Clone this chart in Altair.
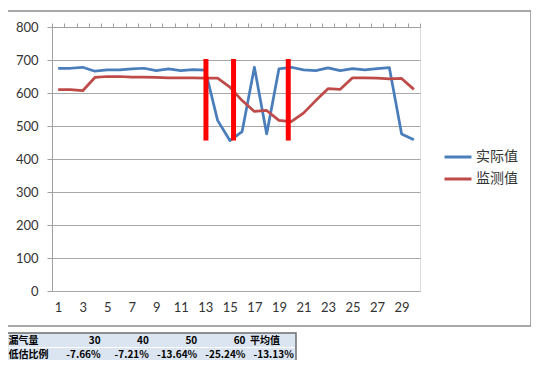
import altair as alt
import pandas as pd

# ---- data ----
days = list(range(1, 31))
actual = [675, 675, 678, 666, 670, 670, 673, 675, 668, 673, 668, 671, 669, 517,
          456, 483, 678, 476, 673, 678, 670, 668, 676, 668, 674, 670, 674, 677, 476, 458]
monitor = [610, 610, 607, 647, 650, 650, 648, 648, 647, 646, 646, 646, 645, 645,
           618, 577, 544, 547, 517, 513, 539, 577, 613, 611, 646, 646, 645, 643, 644, 611]
series_names = ["实际值", "监测值"]
series_colors = ["#4a7ebb", "#be4b48"]

marker_x = [13.05, 15.3, 19.76]
marker_lo = [456, 456, 456]
marker_hi = [703, 703, 703]

table_head = ["漏气量", "30", "40", "50", "60", "平均值"]
table_vals = ["低估比例", "-7.66%", "-7.21%", "-13.64%", "-25.24%", "-13.13%"]

# ---- layout constants ----
W, H = 368, 264
PAD_L, PAD_T = 44, 19
TOTAL_W, TOTAL_H = 523, 352
AX_FONT = "Lato"
CJK = "Noto Sans CJK SC"

rows = []
for d, a, m in zip(days, actual, monitor):
    rows.append({"day": d, "value": a, "series": series_names[0]})
    rows.append({"day": d, "value": m, "series": series_names[1]})
df = pd.DataFrame(rows)

x_scale = alt.Scale(domain=[0.5, 30.5], nice=False, zero=False)
y_scale = alt.Scale(domain=[0, 800], nice=False)

label_days = [d for d in days if d % 2 == 1]
boundaries = [d - 0.5 for d in days] + [days[-1] + 0.5]

lines = alt.Chart(df).mark_line(strokeWidth=2.75, strokeJoin="round").encode(
    x=alt.X("day:Q", scale=x_scale,
            axis=alt.Axis(title=None, values=label_days, grid=False, ticks=False,
                          domain=False, labelOverlap=False,
                          labelFont=AX_FONT, labelFontSize=13, labelColor="#333333",
                          labelPadding=10, labelFlush=False)),
    y=alt.Y("value:Q", scale=y_scale,
            axis=alt.Axis(title=None, values=list(range(0, 801, 100)), grid=True,
                          gridColor="#a8a8a8", tickColor="#a0a0a0", domainColor="#a0a0a0",
                          tickSize=5, labelFont=AX_FONT, labelFontSize=13,
                          labelColor="#333333", labelPadding=9)),
    color=alt.Color("series:N",
                    scale=alt.Scale(domain=series_names, range=series_colors),
                    legend=alt.Legend(title=None, orient="none", legendX=391, legendY=115,
                                      symbolType="stroke", symbolStrokeWidth=3,
                                      symbolSize=729, rowPadding=0,
                                      labelFont=CJK, labelFontSize=14, labelColor="#333333",
                                      labelOffset=3)),
    detail="series:N",
)

mk = pd.DataFrame({"x": marker_x, "lo": marker_lo, "hi": marker_hi})
markers = alt.Chart(mk).mark_rule(color="#ff0000", strokeWidth=5).encode(
    x=alt.X("x:Q", scale=x_scale,
            axis=alt.Axis(title=None, values=boundaries, labels=False, grid=False,
                          tickSize=4, tickColor="#a0a0a0", domainColor="#a0a0a0")),
    y=alt.Y("lo:Q", scale=y_scale, axis=None), y2="hi:Q")

# outer chart border
border = alt.Chart(pd.DataFrame({"k": [0]})).mark_rect(
    fill=None, stroke="#8c8c8c", strokeWidth=1.5).encode(
    x=alt.value(-45), x2=alt.value(479), y=alt.value(-16), y2=alt.value(299))

# table underneath
tbl_bg = alt.Chart(pd.DataFrame({"k": [0]})).mark_rect(
    fill="#dbe5f1", stroke="#6e6e6e", strokeWidth=1.5).encode(
    x=alt.value(-46), x2=alt.value(244), y=alt.value(306), y2=alt.value(335))
tbl_div = alt.Chart(pd.DataFrame({"k": [0]})).mark_rule(
    color="#ffffff", strokeWidth=1).encode(
    x=alt.value(-45), x2=alt.value(243), y=alt.value(320.5))

col_w = 48.3
left0 = -46
trows = []
for r, vals in enumerate([table_head, table_vals]):
    for c, t in enumerate(vals):
        if c == 0 or (r == 0 and c == 5):
            px = left0 + c * col_w + 2.5
            al = "left"
        else:
            px = left0 + (c + 1) * col_w - 2
            al = "right"
        trows.append({"t": t, "px": px, "py": 314 + r * 14, "al": al})
tdf = pd.DataFrame(trows)
tl = tdf[tdf.al == "left"]
tr = tdf[tdf.al == "right"]
tbl_left = alt.Chart(tl).mark_text(font=CJK, fontSize=10, fontWeight="bold",
                                   align="left", baseline="middle", color="#000000").encode(
    x=alt.X("px:Q", scale=None, axis=None), y=alt.Y("py:Q", scale=None, axis=None), text="t:N")
tbl_right = alt.Chart(tr).mark_text(font=CJK, fontSize=10, fontWeight="bold",
                                    align="right", baseline="middle", color="#000000").encode(
    x=alt.X("px:Q", scale=None, axis=None), y=alt.Y("py:Q", scale=None, axis=None), text="t:N")

chart = alt.layer(border, tbl_bg, tbl_div, lines, markers, tbl_left, tbl_right).resolve_scale(
    x="independent", y="independent"
).properties(
    width=W, height=H,
    autosize=alt.AutoSizeParams(type="none"),
    padding={"left": PAD_L, "top": PAD_T, "right": TOTAL_W - PAD_L - W,
             "bottom": TOTAL_H - PAD_T - H},
).configure_view(stroke=None).configure(background="white")

chart.save("out.html", embed_options={"renderer": "svg", "actions": False})
